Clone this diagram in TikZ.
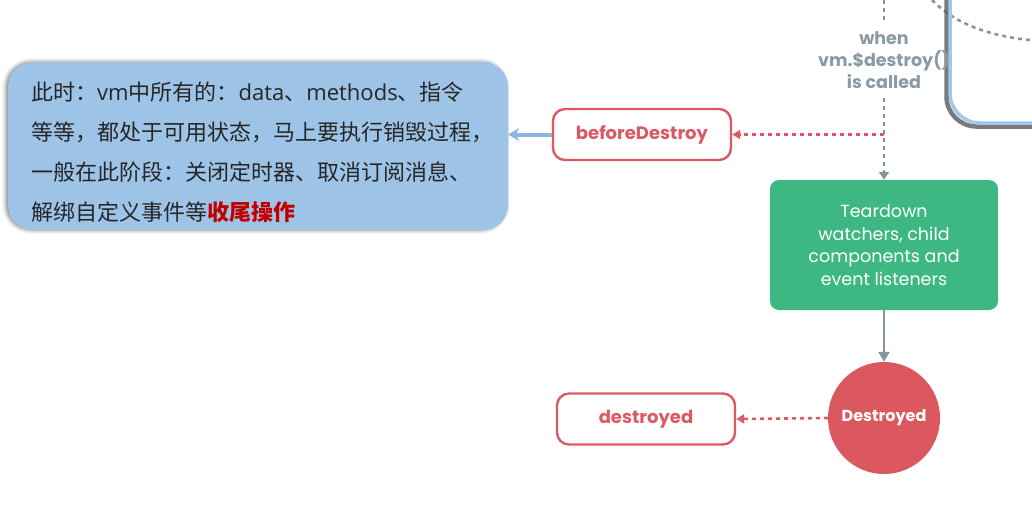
\documentclass[tikz,border=0pt]{standalone}
\usepackage{fontspec}
\newfontfamily\lab{Poppins}
\newfontfamily\cjk{Noto Sans CJK SC}
\newfontfamily\lat{Open Sans}
\usetikzlibrary{arrows.meta,shadows.blur}
\definecolor{hred}{HTML}{DC5A64}
\definecolor{cred}{HTML}{C00000}
\definecolor{cfill}{HTML}{DB5860}
\definecolor{vgreen}{HTML}{3DB883}
\definecolor{lgray}{HTML}{8495A0}
\definecolor{tgray}{HTML}{8A9AA5}
\definecolor{nblue}{HTML}{9DC3E6}
\definecolor{ablue}{HTML}{8DB4E2}
\definecolor{bblue}{HTML}{A3C6EC}
\tikzset{
  hook/.style={draw=hred, line width=2.4pt, rounded corners=12pt, fill=white,
    minimum width=178pt, minimum height=51pt, text=hred,
    font=\lab\bfseries\fontsize{18}{20}\selectfont},
  rdots/.style={draw=hred, line width=2.6pt, dash pattern=on 4pt off 4pt,
    -{Triangle[length=8pt,width=9pt]}},
  gdots/.style={draw=lgray, line width=2.6pt, dash pattern=on 4pt off 4pt},
  sarrow/.style={draw=lgray, line width=2.6pt, -{Triangle[length=10pt,width=11pt]}},
  barrow/.style={draw=ablue, line width=4pt, -{Stealth[length=11pt,width=13pt]}},
  notebox/.style={fill=nblue, rounded corners=25pt, minimum width=500pt,
    minimum height=168pt,
    blur shadow={shadow xshift=-2pt, shadow yshift=0pt, shadow blur radius=4pt, shadow opacity=50}},
  notetext/.style={align=left, inner sep=0pt, text=black!85,
    font=\cjk\fontsize{22}{40}\selectfont},
  stepbox/.style={fill=vgreen, rounded corners=9pt, minimum width=228pt,
    minimum height=130pt, align=center, text=white,
    font=\lab\fontsize{17.5}{22.5}\selectfont},
  endcircle/.style={circle, fill=cfill, minimum size=112pt, inner sep=0pt,
    text=white, font=\lab\bfseries\fontsize{16}{17}\selectfont},
  whenlabel/.style={align=center, text=tgray, inner sep=9pt,
    font=\lab\bfseries\fontsize{17.5}{22}\selectfont}
}
\begin{document}
\begin{tikzpicture}[x=1pt,y=-1pt]
\useasboundingbox (0,0) rectangle (1032,512);
\begin{scope}
\clip (0,0) rectangle (1032,512);
% top-right box (partially visible)
\draw[gdots] (932,0) .. controls (948,16) and (975,36) .. (1040,41);
\draw[draw=black!65, line width=4.5pt, rounded corners=30pt, opacity=0.8]
  (946.5,-60) rectangle (1120,126.5);
\draw[draw=bblue, line width=3.5pt, rounded corners=30pt] (950,-60) rectangle (1120,123);
\end{scope}

% nodes
\node[notebox] (note) at (258,146) {};
\node[notetext, anchor=west] (nt) at (31,152) {此时：{\lat vm}中所有的：{\lat data}、{\lat methods}、指令\\等等，都处于可用状态，马上要执行销毁过程，\\一般在此阶段：关闭定时器、取消订阅消息、\\解绑自定义事件等{\bfseries\color{cred}收尾操作}};
\node[hook] (bd) at (642,134.5) {beforeDestroy};
\node[whenlabel] (when) at (884,60) {when\\vm.\$destroy()\\is called};
\node[stepbox] (td) at (884,245) {Teardown\\watchers, child\\components and\\event listeners};
\node[endcircle] (ds) at (884,418) {Destroyed};
\node[hook] (dd) at (646,419) {destroyed};
\coordinate (top) at (884,0);
\coordinate (j) at (884,134.5);

% connectors
\draw[gdots] (top) -- (when);
\draw[gdots, -{Triangle[length=8pt,width=10pt]}] (when) -- (td);
\draw[rdots] (j) -- (bd.east);
\draw[barrow] (bd.west) -- (note.east |- bd.west);
\draw[sarrow] (td) -- (ds);
\draw[rdots] (ds.west) -- (dd.east);
\end{tikzpicture}
\end{document}
